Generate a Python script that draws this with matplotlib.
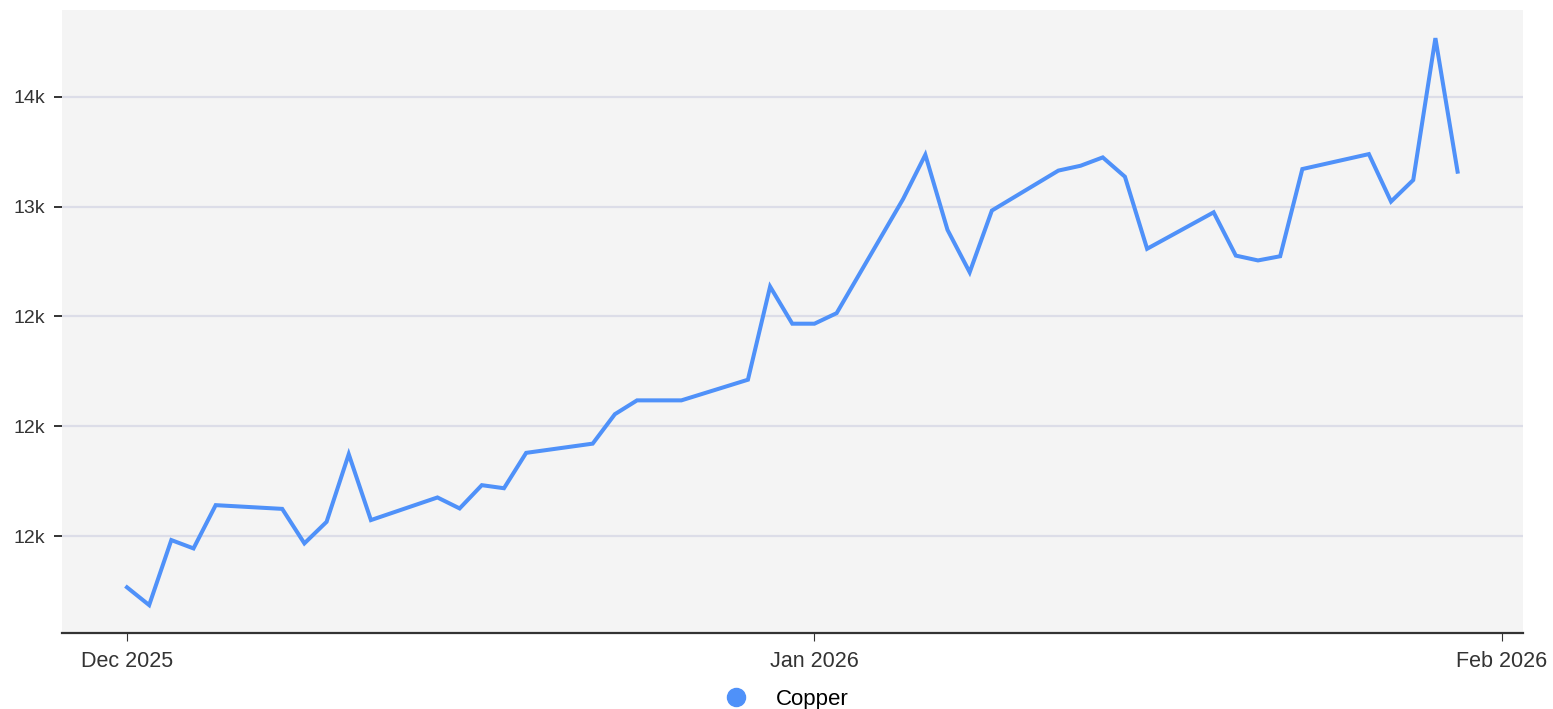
#!/usr/bin/env python3

import pandas as pd
import matplotlib.pyplot as plt
from matplotlib.lines import Line2D

# data
dates = ['2025-12-01', '2025-12-02', '2025-12-03', '2025-12-04', '2025-12-05',
         '2025-12-08', '2025-12-09', '2025-12-10', '2025-12-11', '2025-12-12',
         '2025-12-15', '2025-12-16', '2025-12-17', '2025-12-18', '2025-12-19',
         '2025-12-22', '2025-12-23', '2025-12-24', '2025-12-26', '2025-12-29',
         '2025-12-30', '2025-12-31', '2026-01-01', '2026-01-02', '2026-01-05',
         '2026-01-06', '2026-01-07', '2026-01-08', '2026-01-09', '2026-01-12',
         '2026-01-13', '2026-01-14', '2026-01-15', '2026-01-16', '2026-01-19',
         '2026-01-20', '2026-01-21', '2026-01-22', '2026-01-23', '2026-01-26',
         '2026-01-27', '2026-01-28', '2026-01-29', '2026-01-30']
copper = [11267, 11186, 11482, 11444, 11641,
          11624, 11467, 11565, 11873, 11573,
          11676, 11626, 11732, 11718, 11879,
          11921, 12055, 12118, 12118, 12212,
          12636, 12467, 12467, 12515, 13035,
          13236, 12894, 12701, 12982, 13164,
          13186, 13224, 13136, 12808, 12974,
          12777, 12755, 12774, 13171, 13239,
          13023, 13121, 13767, 13159]

y_ticks = [11500, 12000, 12500, 13000, 13500]
y_tick_labels = ['12k', '12k', '12k', '13k', '14k']
x_ticks = ['2025-12-01', '2026-01-01', '2026-02-01']
x_tick_labels = ['Dec 2025', 'Jan 2026', 'Feb 2026']

LINE_COLOR = '#4f91f9'
TEXT_COLOR = '#333333'

plt.rcParams['font.family'] = ['Liberation Sans', 'DejaVu Sans']

fig = plt.figure(figsize=(15.53, 7.09), dpi=100)
ax = fig.add_axes([62 / 1553, 1 - 633 / 709, (1523 - 62) / 1553, (633 - 10) / 709])
ax.set_facecolor('#f4f4f4')

x = pd.to_datetime(dates)
ax.plot(x, copper, color=LINE_COLOR, linewidth=2.9, solid_joinstyle='miter')

# limits
ax.set_xlim(pd.Timestamp('2025-12-01') - pd.Timedelta(days=2.93),
            pd.Timestamp('2026-02-01') + pd.Timedelta(days=0.95))
ax.set_ylim(11059, 13895)

# ticks
ax.set_yticks(y_ticks)
ax.set_yticklabels(y_tick_labels)
ax.set_xticks(pd.to_datetime(x_ticks))
ax.set_xticklabels(x_tick_labels)
ax.tick_params(axis='y', length=6, width=1.4, color=TEXT_COLOR, pad=6,
               labelsize=14, labelcolor=TEXT_COLOR)
ax.tick_params(axis='x', length=6, width=0.8, color=TEXT_COLOR, pad=7,
               labelsize=15.5, labelcolor=TEXT_COLOR)

# grid
ax.yaxis.grid(True, color='#dcdde8', linewidth=1.6)
ax.xaxis.grid(False)
ax.set_axisbelow(True)

# spines
for side in ['left', 'right', 'top']:
    ax.spines[side].set_visible(False)
ax.spines['bottom'].set_color('#333333')
ax.spines['bottom'].set_linewidth(1.6)

# legend
handle = Line2D([], [], linestyle='none', marker='o', markersize=13,
                markerfacecolor=LINE_COLOR, markeredgecolor=LINE_COLOR)
ax.legend([handle], ['Copper'], loc='center', bbox_to_anchor=(0.496, -0.106),
          frameon=False, fontsize=16, handlelength=1, handletextpad=1.3)

plt.savefig('out.png', dpi=100)
